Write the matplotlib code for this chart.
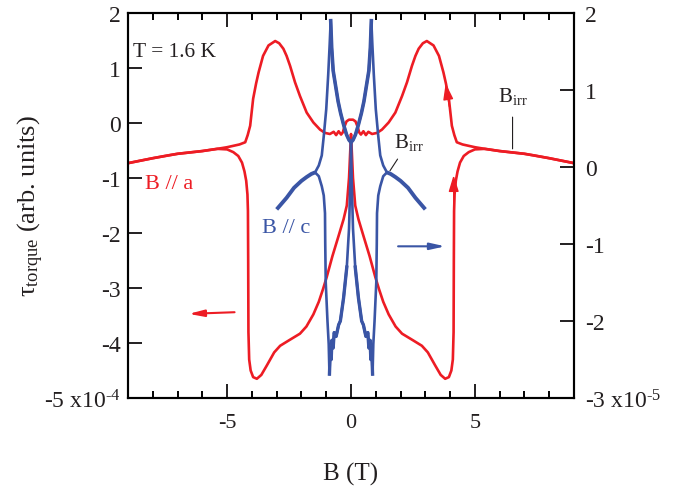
import matplotlib.pyplot as plt
import numpy as np

plt.rcParams['font.family'] = ['Liberation Serif', 'DejaVu Serif']
plt.rcParams['mathtext.fontset'] = 'custom'
plt.rcParams['mathtext.rm'] = 'Liberation Serif'
plt.rcParams['mathtext.it'] = 'Liberation Serif:italic'
plt.rcParams['axes.unicode_minus'] = False

RED = '#ed1c24'
BLUE = '#3a55a5'
INK = '#231f20'

# B // a (left axis, x1e-4), half of the loop for B <= 0; the loop is symmetric in B
a_up_b = [-9, -8, -7.4, -7, -6, -5.4, -5, -4.5, -4.27, -4.17, -4.07, -3.95, -3.83, -3.73,
          -3.55, -3.33, -3.06, -2.9, -2.73, -2.6, -2.46, -2.26, -2.06, -1.79, -1.52, -1.25,
          -1.05, -0.85, -0.7, -0.6, -0.5, -0.4, -0.33, -0.26, -0.18, -0.08, 0]
a_up_t = [-0.73, -0.64, -0.59, -0.56, -0.51, -0.47, -0.44, -0.39, -0.35, -0.22, -0.05, 0.44, 0.72, 0.92,
          1.22, 1.41, 1.49, 1.45, 1.35, 1.22, 1.04, 0.74, 0.49, 0.19, 0.01, -0.12,
          -0.18, -0.2, -0.16, -0.22, -0.15, -0.21, -0.17, -0.06, 0.03, 0.06, 0.06]
a_dn_b = [-9, -8, -7, -6, -5.4, -5, -4.75, -4.55, -4.4, -4.3, -4.23, -4.18, -4.16, -4.15,
          -4.14, -4.11, -4.05, -3.95, -3.8, -3.62, -3.4, -3.1, -2.86, -2.5, -2.06, -1.8,
          -1.52, -1.3, -1.13, -0.98, -0.75, -0.5, -0.3, -0.17, -0.08, -0.03, 0]
a_dn_t = [-0.73, -0.64, -0.56, -0.51, -0.47, -0.48, -0.53, -0.6, -0.72, -0.88, -1.05, -1.3, -1.6, -2.5,
          -3.8, -4.3, -4.5, -4.62, -4.65, -4.58, -4.41, -4.17, -4.05, -3.95, -3.83, -3.7,
          -3.48, -3.25, -3.02, -2.8, -2.42, -2.05, -1.75, -1.5, -1.0, -0.5, -0.2]

# B // c (right axis, x1e-5), half for B <= 0
c_out_b = [-3.0, -2.6, -2.3, -2.0, -1.79, -1.6, -1.45]
c_out_t = [-0.55, -0.4, -0.27, -0.18, -0.13, -0.09, -0.07]
c_up_b = [-1.45, -1.3, -1.18, -1.1, -1.0, -0.92, -0.86, -0.82, -0.78, -0.72, -0.62, -0.52,
          -0.42, -0.3, -0.18, -0.08, 0]
c_up_t = [-0.07, 0.02, 0.15, 0.4, 0.75, 1.2, 1.6, 1.9, 1.55, 1.25, 1.05, 0.85,
          0.7, 0.55, 0.42, 0.35, 0.32]
c_dn_b = [-1.45, -1.3, -1.18, -1.1, -1.05, -1.04, -1.02, -0.95, -0.9, -0.87, -0.84, -0.8,
          -0.77, -0.72, -0.68, -0.6, -0.5, -0.43, -0.3, -0.17, -0.08, -0.03, 0]
c_dn_t = [-0.07, -0.12, -0.25, -0.37, -0.6, -1.0, -1.5, -2.0, -2.3, -2.69, -2.4, -2.5,
          -2.25, -2.35, -2.15, -2.2, -2.05, -2.0, -1.7, -1.3, -0.8, -0.2, 0.32]


def mirror(b, t):
    b = np.asarray(b, float)
    t = np.asarray(t, float)
    return np.concatenate([b, -b[::-1]]), np.concatenate([t, t[::-1]])


fig = plt.figure(figsize=(6.89, 4.89), dpi=100)
ax = fig.add_axes([0.1858, 0.184, 0.6473, 0.7874])
ax2 = ax.twinx()

for b, t in [(a_up_b, a_up_t), (a_dn_b, a_dn_t)]:
    x, y = mirror(b, t)
    ax.plot(x, y, color=RED, lw=1.9, solid_joinstyle='round')

ax2.plot(c_out_b, c_out_t, color=BLUE, lw=2.8, solid_capstyle='butt')
ax2.plot(-np.array(c_out_b), c_out_t, color=BLUE, lw=2.8, solid_capstyle='butt')
for b, t, w in [(c_up_b, c_up_t, 1.9), (c_dn_b, c_dn_t, 1.9)]:
    x, y = mirror(b, t)
    ax2.plot(x, y, color=BLUE, lw=w, solid_joinstyle='round')

# the noisy inner parts look heavier in the original
pk = c_up_t.index(max(c_up_t))
x, y = mirror(c_up_b[pk:], c_up_t[pk:])
ax2.plot(x, y, color=BLUE, lw=2.6, solid_joinstyle='round')
mn = c_dn_t.index(min(c_dn_t))
x, y = mirror(c_dn_b[mn:-3], c_dn_t[mn:-3])
ax2.plot(x[:len(x) // 2], y[:len(y) // 2], color=BLUE, lw=2.4)
ax2.plot(x[len(x) // 2:], y[len(y) // 2:], color=BLUE, lw=2.4)

# axes styling
ax.set_xlim(-9, 9)
ax.set_ylim(-5, 2)
ax2.set_ylim(-3, 2)
ax.set_xticks([-5, 0, 5])
ax.set_xticks(np.arange(-8, 9, 1), minor=True)
ax.set_yticks(np.arange(-5, 3, 1))
ax2.set_yticks(np.arange(-3, 3, 1))
ax.set_yticklabels(['-5 x10$^{\\text{-}4}$'] + [str(v) for v in range(-4, 3)])
ax2.set_yticklabels(['-3 x10$^{\\text{-}5}$'] + [str(v) for v in range(-2, 3)])

ax.tick_params(axis='x', which='major', direction='in', length=10, width=1.4,
               top=True, labelsize=16, pad=11, colors=INK)
ax.tick_params(axis='x', which='minor', direction='in', length=5, width=1.4, top=True)
ax.tick_params(axis='y', direction='in', length=10, width=1.4, labelsize=17, pad=5,
               right=False, colors=INK)
ax2.tick_params(axis='y', direction='in', length=10, width=1.4, labelsize=17, pad=8,
                colors=INK)
for a in (ax, ax2):
    for s in a.spines.values():
        s.set_linewidth(1.5)
        s.set_color('black')

ax.set_xlabel('B (T)', fontsize=18, color=INK)
ax.xaxis.set_label_coords(0.5, -0.165)
ax.set_ylabel('τ$_{\\mathrm{torque}}$ (arb. units)', fontsize=19, color=INK)
ax.yaxis.set_label_coords(-0.185, 0.5)

ax.text(0.011, 0.90, 'T = 1.6 K', transform=ax.transAxes, fontsize=15.5,
        color=INK, va='center', ha='left')
ax.text(0.038, 0.558, 'B // a', transform=ax.transAxes, fontsize=16,
        color=RED, va='center', ha='left')
ax.text(0.30, 0.444, 'B // c', transform=ax.transAxes, fontsize=16,
        color=BLUE, va='center', ha='left')

ax.annotate('B$_{\\mathrm{irr}}$', xy=(1.57, -0.87), xytext=(2.35, -0.33),
            fontsize=15, color=INK, ha='center', va='center',
            arrowprops=dict(arrowstyle='-', lw=0.8, color=INK, shrinkA=4, shrinkB=0))
ax.annotate('B$_{\\mathrm{irr}}$', xy=(6.52, -0.47), xytext=(6.52, 0.5),
            fontsize=15, color=INK, ha='center', va='center',
            arrowprops=dict(arrowstyle='-', lw=0.8, color=INK, shrinkA=6, shrinkB=0))

# axis indicator arrows
ax.annotate('', xy=(-6.55, -3.47), xytext=(-4.7, -3.44),
            arrowprops=dict(arrowstyle='-|>,head_length=0.9,head_width=0.2',
                            color=RED, lw=1.5, shrinkA=0, shrinkB=0))
ax2.annotate('', xy=(3.8, -1.03), xytext=(1.9, -1.03),
             arrowprops=dict(arrowstyle='-|>,head_length=0.9,head_width=0.2',
                             color=BLUE, lw=1.5, shrinkA=0, shrinkB=0))

# sweep direction heads on the B // a loop
ax.annotate('', xy=(4.14, -0.95), xytext=(4.15, -1.5),
            arrowprops=dict(arrowstyle='-|>,head_length=0.9,head_width=0.28',
                            color=RED, lw=1.0, shrinkA=0, shrinkB=0, mutation_scale=11))
ax.annotate('', xy=(3.82, 0.72), xytext=(3.97, 0.3),
            arrowprops=dict(arrowstyle='-|>,head_length=0.9,head_width=0.28',
                            color=RED, lw=1.0, shrinkA=0, shrinkB=0, mutation_scale=11))

fig.savefig('out.png', dpi=100)
